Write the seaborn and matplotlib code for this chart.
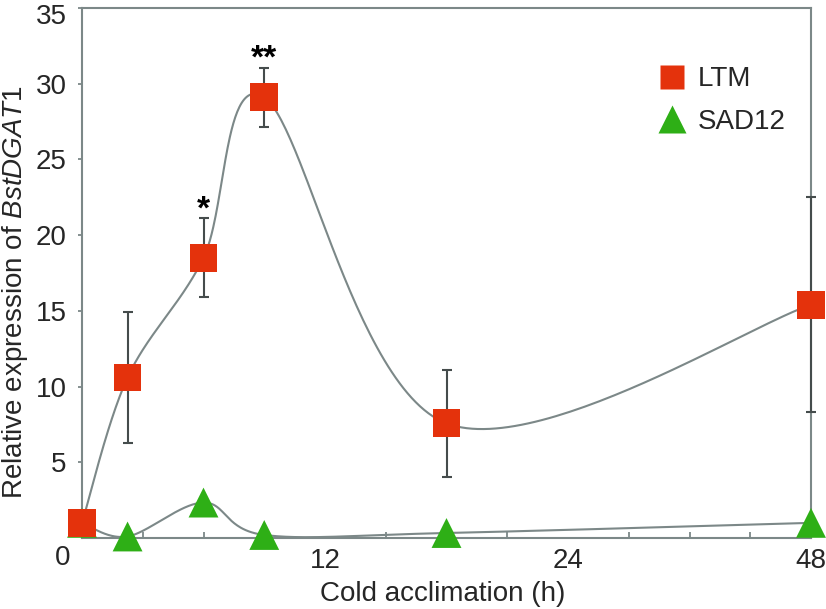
import numpy as np
import seaborn as sns
import matplotlib.pyplot as plt
from matplotlib.lines import Line2D
from matplotlib.transforms import ScaledTranslation

sns.set_style('white')
plt.rcParams['font.family'] = ['Liberation Sans', 'DejaVu Sans']
plt.rcParams['mathtext.fontset'] = 'custom'
plt.rcParams['mathtext.rm'] = 'Liberation Sans'
plt.rcParams['mathtext.it'] = 'Liberation Sans:italic'

# donnees
hours = [0, 3, 8, 12, 24, 48]
ltm = [1.0, 10.6, 18.5, 29.1, 7.57, 15.4]
ltm_err = [0.0, 4.35, 2.6, 1.95, 3.55, 7.1]
sad12 = [1.0, 0.1, 2.34, 0.2, 0.33, 1.0]
stars = {8: '*', 12: '**'}
xtick_pos = [16, 32, 48]
xtick_labels = ['12', '24', '48']
yticks = [5, 10, 15, 20, 25, 30, 35]

red = '#E4320C'
green = '#2EAF16'
grey = '#7C8888'
fs = 20


def smooth(x, y, n=60):
    # courbe lissee type Excel (bezier / catmull-rom)
    p = np.column_stack([x, y]).astype(float)
    p = np.vstack([p[0], p, p[-1]])
    t = np.linspace(0, 1, n)[:, None]
    segs = []
    for i in range(1, len(p) - 2):
        p0, p1, p2, p3 = p[i - 1], p[i], p[i + 1], p[i + 2]
        c1 = p1 + (p2 - p0) / 6
        c2 = p2 - (p3 - p1) / 6
        segs.append((1 - t) ** 3 * p1 + 3 * (1 - t) ** 2 * t * c1
                    + 3 * (1 - t) * t ** 2 * c2 + t ** 3 * p2)
    c = np.vstack(segs)
    return c[:, 0], c[:, 1]


fig = plt.figure(figsize=(8.26, 6.09), dpi=100)
ax = fig.add_axes([82 / 826, 1 - 538 / 609, 729 / 826, 530 / 609])

for vals in (ltm, sad12):
    sx, sy = smooth(hours, vals)
    ax.plot(sx, sy, color=grey, lw=1.5, zorder=2, clip_on=False)

ax.errorbar(hours, ltm, yerr=ltm_err, fmt='none', ecolor='#454C4C',
            elinewidth=1.5, capsize=3.3, capthick=1.5, zorder=3, clip_on=False)

sns.scatterplot(x=hours, y=sad12, marker='^', s=21.5 ** 2, color=green,
                edgecolor='none', ax=ax, zorder=5, clip_on=False)
sns.scatterplot(x=hours, y=ltm, marker='s', s=20 ** 2, color=red,
                edgecolor='none', ax=ax, zorder=6, clip_on=False)

for h, s in stars.items():
    i = hours.index(h)
    ax.text(h, ltm[i] + ltm_err[i] + 0.55, s, ha='center', va='center',
            fontsize=24, fontweight='bold', color='black')

ax.set_xlim(0, 48)
ax.set_ylim(0, 35)
ax.set_xticks(xtick_pos, xtick_labels)
ax.set_xticks(np.arange(4, 48, 4), minor=True)
ax.set_yticks(yticks)
ax.tick_params(axis='x', which='major', length=0, pad=7, labelsize=fs)
ax.tick_params(axis='x', which='minor', direction='in', length=4,
               width=1.3, color=grey, bottom=True)
ax.tick_params(axis='y', direction='out', length=3, width=1.3,
               color=grey, pad=8, labelsize=fs, left=True)
# le "35" du haut est un peu descendu, comme sur l'original
top_lbl = ax.yaxis.get_major_ticks()[-1].label1
top_lbl.set_transform(top_lbl.get_transform()
                      + ScaledTranslation(0, -4 / 72, fig.dpi_scale_trans))
ax.annotate('0', xy=(0, 0), xytext=(-14, -5), textcoords='offset points',
            ha='center', va='top', fontsize=fs,
            xycoords=('data', 'axes fraction'))

for sp in ax.spines.values():
    sp.set_color(grey)
    sp.set_linewidth(1.5)

ax.set_xlabel('Cold acclimation (h)', fontsize=fs)
ax.set_ylabel('Relative expression of $\\it{BstDGAT1}$', fontsize=fs)
ax.xaxis.set_label_coords(0.495, -0.082)
ax.yaxis.set_label_coords(-0.072, 0.464)

handles = [
    Line2D([], [], ls='none', marker='s', ms=17.5, color=red, mec='none', label='LTM'),
    Line2D([], [], ls='none', marker='^', ms=20, color=green, mec='none', label='SAD12'),
]
ax.legend(handles=handles, loc='upper left', bbox_to_anchor=(0.787, 0.89),
          frameon=False, fontsize=fs, handlelength=1.2, handletextpad=0.3,
          labelspacing=0.6, borderpad=0, borderaxespad=0)

fig.savefig('out.png', dpi=100)
